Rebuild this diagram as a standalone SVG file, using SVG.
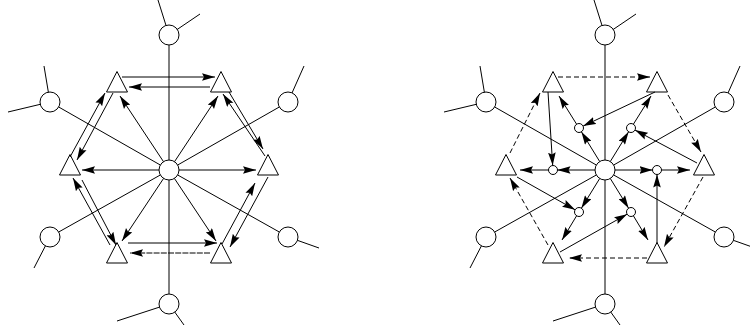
<svg xmlns="http://www.w3.org/2000/svg" width="750" height="332" viewBox="0 0 750 332">
<style>
.ln{stroke:#000;stroke-width:1;fill:none}
.ar{stroke:#000;stroke-width:1;fill:none;marker-end:url(#ah)}
.da{stroke-dasharray:5,3}
.fd{stroke-dasharray:6,1.2}
.nd{fill:#fff;stroke:#000;stroke-width:1}
</style>
<defs>
<marker id="ah" markerUnits="userSpaceOnUse" markerWidth="13" markerHeight="8" refX="13" refY="4" orient="auto"><path d="M0,0.2 L13,4 L0,7.8 L2,4 z" fill="#000"/></marker>
</defs>
<rect width="750" height="332" fill="#fff"/>

<!-- LEFT DIAGRAM -->
<g id="left">
<g id="L-top"><path class="ln" d="M169,35 L158,0 M169,35 L200,14"/><circle class="nd" cx="169" cy="35" r="10"/></g>
<g id="L-ul"><path class="ln" d="M50,102 L44,66 M50,102 L8,112"/><circle class="nd" cx="50" cy="102" r="10"/></g>
<g id="L-ur"><path class="ln" d="M288,102 L304,66"/><circle class="nd" cx="288" cy="102" r="10"/></g>
<g id="L-ll"><path class="ln" d="M50,237 L34,268"/><circle class="nd" cx="50" cy="237" r="10"/></g>
<g id="L-lr"><path class="ln" d="M288,237 L319,248"/><circle class="nd" cx="288" cy="237" r="10"/></g>
<g id="L-bottom"><path class="ln" d="M169,304 L117,321 M169,304 L184,325"/><circle class="nd" cx="169" cy="304" r="10"/></g>
<g id="L-center"><circle class="nd" cx="169" cy="170" r="10"/></g>
<g id="L-tri-ul"><polygon class="nd" points="117,71.5 106.5,92 127.5,92"/></g>
<g id="L-tri-ur"><polygon class="nd" points="221,71.5 210.5,92 231.5,92"/></g>
<g id="L-tri-l"><polygon class="nd" points="70,154.5 59.5,175 80.5,175"/></g>
<g id="L-tri-r"><polygon class="nd" points="268,154.5 257.5,175 278.5,175"/></g>
<g id="L-tri-ll"><polygon class="nd" points="117,242.5 106.5,263 127.5,263"/></g>
<g id="L-tri-lr"><polygon class="nd" points="221,242.5 210.5,263 231.5,263"/></g>
<g id="L-connectors">
<path class="ln" d="M169,45 L169,160 M169,180 L169,294 M58.7,107 L160.3,165 M177.7,175 L279.3,232 M279.3,107 L177.7,165 M160.3,175 L58.7,232"/>
<line class="ar" x1="163.5" y1="161.7" x2="120" y2="96"/>
<line class="ar" x1="174.5" y1="161.7" x2="218" y2="96"/>
<line class="ar" x1="159" y1="170" x2="82" y2="170"/>
<line class="ar" x1="179" y1="170" x2="256" y2="170"/>
<line class="ar" x1="163.6" y1="178.4" x2="122" y2="241"/>
<line class="ar" x1="174.4" y1="178.4" x2="216" y2="241"/>
<line class="ar" x1="122" y1="77" x2="215" y2="77"/>
<line class="ar" x1="210" y1="87" x2="129" y2="87"/>
<line class="ar" x1="128" y1="243" x2="217" y2="243"/>
<line class="ar fd" x1="210" y1="253" x2="130" y2="253"/>
<line class="ar" x1="70" y1="157" x2="105" y2="93"/>
<line class="ar" x1="113" y1="93" x2="77" y2="160"/>
<line class="ar" x1="229" y1="92" x2="263" y2="149"/>
<line class="ar" x1="265" y1="156" x2="223" y2="94"/>
<line class="ar" x1="110" y1="245" x2="73" y2="178"/>
<line class="ar" x1="82" y1="180" x2="116" y2="245"/>
<line class="ar" x1="268" y1="177" x2="230" y2="247"/>
<line class="ar" x1="222" y1="244" x2="255" y2="183"/>
</g>
</g>

<!-- RIGHT DIAGRAM -->
<g id="right">
<g id="R-top"><path class="ln" d="M605,35 L594,0 M605,35 L636,14"/><circle class="nd" cx="605" cy="35" r="10"/></g>
<g id="R-ul"><path class="ln" d="M486,102 L480,66 M486,102 L444,112"/><circle class="nd" cx="486" cy="102" r="10"/></g>
<g id="R-ur"><path class="ln" d="M724,102 L740,66"/><circle class="nd" cx="724" cy="102" r="10"/></g>
<g id="R-ll"><path class="ln" d="M486,237 L470,268"/><circle class="nd" cx="486" cy="237" r="10"/></g>
<g id="R-lr"><path class="ln" d="M724,237 L755,248"/><circle class="nd" cx="724" cy="237" r="10"/></g>
<g id="R-bottom"><path class="ln" d="M605,304 L553,321 M605,304 L620,325"/><circle class="nd" cx="605" cy="304" r="10"/></g>
<g id="R-center"><circle class="nd" cx="605" cy="170" r="10"/></g>
<g id="R-tri-ul"><polygon class="nd" points="553,71.5 542.5,92 563.5,92"/></g>
<g id="R-tri-ur"><polygon class="nd" points="657,71.5 646.5,92 667.5,92"/></g>
<g id="R-tri-l"><polygon class="nd" points="506,154.5 495.5,175 516.5,175"/></g>
<g id="R-tri-r"><polygon class="nd" points="704,154.5 693.5,175 714.5,175"/></g>
<g id="R-tri-ll"><polygon class="nd" points="553,242.5 542.5,263 563.5,263"/></g>
<g id="R-tri-lr"><polygon class="nd" points="657,242.5 646.5,263 667.5,263"/></g>
<g id="R-s-ul"><circle class="nd" cx="579" cy="128" r="4.5"/></g>
<g id="R-s-ur"><circle class="nd" cx="631" cy="128" r="4.5"/></g>
<g id="R-s-l"><circle class="nd" cx="553" cy="170" r="4.5"/></g>
<g id="R-s-r"><circle class="nd" cx="657" cy="170" r="4.5"/></g>
<g id="R-s-ll"><circle class="nd" cx="579" cy="212" r="4.5"/></g>
<g id="R-s-lr"><circle class="nd" cx="631" cy="212" r="4.5"/></g>
<g id="R-connectors">
<path class="ln" d="M605,45 L605,160 M605,180 L605,294 M494.7,107 L596.3,165 M613.7,175 L715.3,232 M715.3,107 L613.7,165 M596.3,175 L494.7,232"/>
<line class="ar da" x1="558" y1="77" x2="650" y2="77"/>
<line class="ar da" x1="668" y1="95" x2="701" y2="152"/>
<line class="ar da" x1="703" y1="177" x2="664" y2="247"/>
<line class="ar da" x1="647" y1="258" x2="569" y2="258"/>
<line class="ar da" x1="548" y1="245" x2="510" y2="178"/>
<line class="ar da" x1="510" y1="153" x2="540" y2="93"/>
<line class="ar" x1="599.7" y1="161.5" x2="581.4" y2="131.8"/>
<line class="ar" x1="610.3" y1="161.5" x2="628.6" y2="131.8"/>
<line class="ar" x1="595" y1="170" x2="557.5" y2="170"/>
<line class="ar" x1="615" y1="170" x2="652.5" y2="170"/>
<line class="ar" x1="599.7" y1="178.5" x2="581.4" y2="208.2"/>
<line class="ar" x1="610.3" y1="178.5" x2="628.6" y2="208.2"/>
<line class="ar" x1="576.6" y1="124.2" x2="559" y2="96"/>
<line class="ar" x1="633.4" y1="124.2" x2="651" y2="96"/>
<line class="ar" x1="548.5" y1="170" x2="520" y2="170"/>
<line class="ar" x1="661.5" y1="170" x2="690" y2="170"/>
<line class="ar" x1="576.6" y1="215.8" x2="562" y2="240"/>
<line class="ar" x1="633.4" y1="215.8" x2="648" y2="240"/>
<line class="ar" x1="655" y1="92" x2="583.1" y2="126.1"/>
<line class="ar" x1="697" y1="163" x2="635" y2="130.1"/>
<line class="ar" x1="657" y1="243" x2="657" y2="174.5"/>
<line class="ar" x1="560" y1="252" x2="627.1" y2="214.2"/>
<line class="ar" x1="517" y1="177" x2="575.1" y2="209.8"/>
<line class="ar" x1="548" y1="92" x2="552.7" y2="165.5"/>
</g>
</g>
</svg>
